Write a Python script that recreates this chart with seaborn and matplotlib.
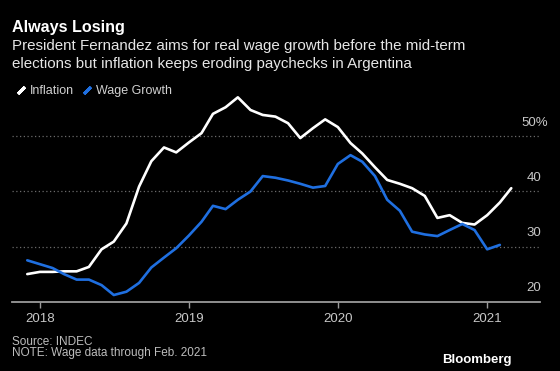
import pandas as pd
import numpy as np
import matplotlib
matplotlib.use("Agg")
import matplotlib.pyplot as plt
import matplotlib.transforms as mtransforms
from matplotlib.lines import Line2D
import seaborn as sns

# data: year-over-year %, monthly
inflation = [25.0, 25.4, 25.4, 25.5, 25.5, 26.3, 29.5, 30.9, 34.2, 40.9, 45.5, 48.0, 47.1,
             48.9, 50.6, 54.1, 55.3, 57.1, 54.8, 53.9, 53.6, 52.4, 49.7, 51.5, 53.1,
             51.7, 48.8, 46.9, 44.4, 42.1, 41.4, 40.6, 39.2, 35.2, 35.7, 34.3, 34.0,
             35.7, 38.0, 40.6]
wage_growth = [27.5, 26.8, 26.1, 25.0, 24.0, 24.0, 23.0, 21.2, 21.8, 23.4, 26.2, 28.0, 29.7,
               32.0, 34.5, 37.4, 36.8, 38.5, 40.0, 42.8, 42.5, 42.0, 41.4, 40.7, 41.0,
               45.0, 46.6, 45.4, 42.8, 38.5, 36.5, 32.7, 32.2, 31.9, 33.0, 34.1, 33.0,
               29.5, 30.3]
months = pd.date_range("2017-12-01", periods=len(inflation), freq="MS")
year_ticks = ["2018", "2019", "2020", "2021"]
y_ticks = [20, 30, 40, 50]
y_labels = ["20", "30", "40", "50%"]

df = pd.DataFrame({"date": months, "Inflation": inflation})
df["Wage Growth"] = pd.Series(wage_growth + [np.nan] * (len(inflation) - len(wage_growth)))
long = df.melt(id_vars="date", var_name="series", value_name="pct").dropna()

WHITE = "#ffffff"
BLUE = "#1f6fe0"

sns.set_theme(style="dark")
plt.rcParams["font.family"] = ["Liberation Sans", "DejaVu Sans"]

fig = plt.figure(figsize=(5.6, 3.71), dpi=100, facecolor="black")
ax = fig.add_axes([0.021, 0.187, 0.943, 0.564], facecolor="black")

sns.lineplot(data=long, x="date", y="pct", hue="series",
             palette={"Inflation": WHITE, "Wage Growth": BLUE},
             linewidth=1.9, legend=False, ax=ax)

ax.set_xlim(pd.Timestamp("2017-10-24"), pd.Timestamp("2021-05-10"))
ax.set_ylim(20, 58)
ax.set_xlabel("")
ax.set_ylabel("")

# year ticks
ax.set_xticks([pd.Timestamp(y + "-01-01") for y in year_ticks])
ax.set_xticklabels(year_ticks)
ax.tick_params(axis="x", colors="#9a9a9a", length=4, width=1, direction="out",
               labelcolor="#c8c8c8", labelsize=9.5, pad=4, bottom=True)

# dotted gridlines, labels sit above them at the right
ax.set_yticks(y_ticks)
ax.set_yticklabels([])
ax.tick_params(axis="y", length=0)
ax.grid(False)
for v in y_ticks[1:]:
    ax.axhline(v, color="#6a6a6a", linestyle=(0, (1, 2)), linewidth=0.9, zorder=0)
trans = mtransforms.blended_transform_factory(ax.transAxes, ax.transData)
for v, lab in zip(y_ticks, y_labels):
    ax.annotate(lab, xy=(1.0, v), xycoords=trans, xytext=(1 if "%" not in lab else 6, 5.5),
                textcoords="offset points", ha="right", va="bottom",
                color="#c8c8c8", fontsize=9.5)

for side in ["top", "right", "left"]:
    ax.spines[side].set_visible(False)
ax.spines["bottom"].set_color("#9a9a9a")
ax.spines["bottom"].set_linewidth(1.3)

# titles
fig.text(0.021, 0.927, "Always Losing", color="white", fontsize=11.6,
         fontweight="bold", va="center")
fig.text(0.021, 0.876, "President Fernandez aims for real wage growth before the mid-term",
         color="#e6e6e6", fontsize=10.9, va="center")
fig.text(0.021, 0.828, "elections but inflation keeps eroding paychecks in Argentina",
         color="#e6e6e6", fontsize=10.9, va="center")

# legend with slash markers
handles = [Line2D([], [], linestyle="none", marker=(2, 2, -45), markersize=7,
                  markeredgewidth=2.2, markeredgecolor=c) for c in (WHITE, BLUE)]
fig.legend(handles, ["Inflation", "Wage Growth"], loc="center left",
           bbox_to_anchor=(0.008, 0.755), ncol=2, frameon=False, handlelength=0.8,
           handletextpad=0.3, columnspacing=0.7, labelcolor="#d0d0d0", fontsize=9)

# footer
fig.text(0.021, 0.079, "Source: INDEC", color="#bdbdbd", fontsize=8.5, va="center")
fig.text(0.021, 0.048, "NOTE: Wage data through Feb. 2021", color="#bdbdbd",
         fontsize=8.5, va="center")
fig.text(0.913, 0.030, "Bloomberg", color="white", fontsize=9.5, fontweight="bold",
         ha="right", va="center")

fig.savefig("out.png", dpi=100, facecolor="black")
